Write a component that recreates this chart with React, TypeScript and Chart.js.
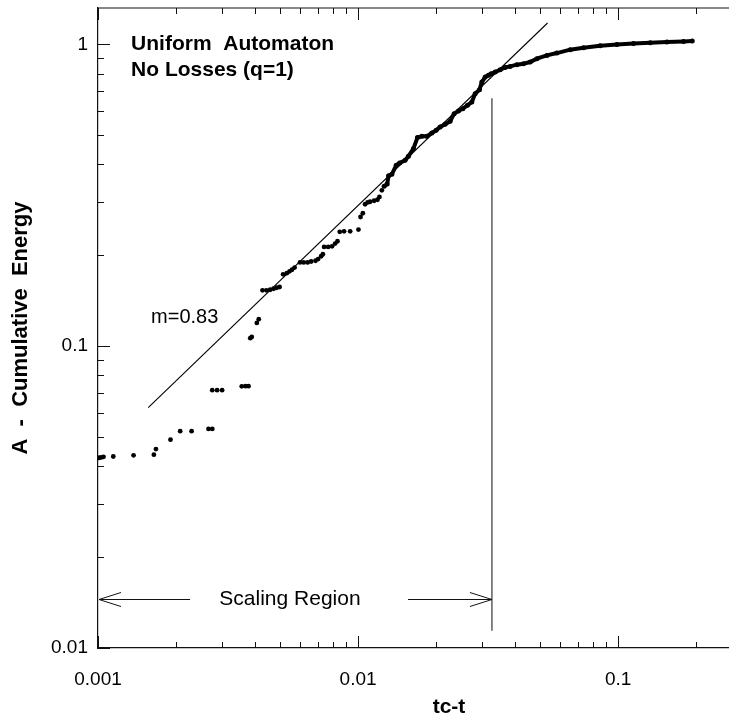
import React, { useEffect, useRef } from "react";
import { Chart, registerables } from "chart.js";

Chart.register(...registerables);

// Cumulative energy A versus time to failure tc-t: scattered early releases
const earlyTcMinusT = [
  0.00101, 0.00103, 0.00105, 0.001145, 0.00137, 0.00164, 0.00167, 0.0019, 0.00207, 0.00229,
  0.00266, 0.00275, 0.00275, 0.00287, 0.003, 0.00357, 0.00369, 0.00379, 0.00385, 0.0039,
  0.00408, 0.00415, 0.00429, 0.00444, 0.00459, 0.00473, 0.00486, 0.00499, 0.00515, 0.00532,
  0.00545, 0.00557, 0.0057, 0.00598, 0.00618, 0.0064, 0.0066, 0.00686, 0.00702, 0.00721,
  0.00732, 0.0074, 0.00767, 0.00794, 0.00816, 0.00833, 0.0085, 0.00883, 0.00932, 0.01003,
  0.01022, 0.01043, 0.01064, 0.01088, 0.01112, 0.01152, 0.01187, 0.01208, 0.01234,
];
const earlyEnergy = [
  0.0427, 0.0428, 0.043, 0.0431, 0.0435, 0.0437, 0.0456, 0.049, 0.0523, 0.0523,
  0.0532, 0.0532, 0.0715, 0.0715, 0.0715, 0.0736, 0.0737, 0.0737, 0.1063, 0.1073,
  0.1194, 0.1229, 0.1532, 0.1532, 0.1538, 0.155, 0.1562, 0.1571, 0.1731, 0.1745,
  0.1771, 0.1792, 0.1822, 0.1895, 0.1895, 0.1895, 0.1908, 0.1919, 0.1944, 0.1986,
  0.2017, 0.2132, 0.2132, 0.2143, 0.2188, 0.2227, 0.2393, 0.2403, 0.2403, 0.2434,
  0.268, 0.2757, 0.2953, 0.2994, 0.301, 0.3033, 0.3056, 0.3122, 0.3285,
];

// Dense releases close to failure and the saturation afterwards
const lateTcMinusT = [
  0.01259, 0.01293, 0.0131, 0.01348, 0.01401, 0.01444, 0.01516, 0.01561, 0.01632, 0.01691,
  0.01758, 0.01838, 0.01921, 0.01995, 0.02067, 0.02161, 0.02258, 0.0234, 0.02431, 0.02527,
  0.02633, 0.02737, 0.02818, 0.02928, 0.02991, 0.0308, 0.03171, 0.03247, 0.03365, 0.03517,
  0.03676, 0.03842, 0.04077, 0.04323, 0.04587, 0.04868, 0.05318, 0.05811, 0.06537, 0.07355,
  0.08527, 0.09886, 0.1145, 0.1328, 0.1539, 0.1783, 0.1926,
];
const lateEnergy = [
  0.3387, 0.3444, 0.3669, 0.3711, 0.3975, 0.4046, 0.4129, 0.4257, 0.4515, 0.491,
  0.4959, 0.4959, 0.5085, 0.5191, 0.5324, 0.5434, 0.5559, 0.5895, 0.6013, 0.6124,
  0.6281, 0.6441, 0.6867, 0.7079, 0.75, 0.7792, 0.7896, 0.7987, 0.8097, 0.8245,
  0.8391, 0.8455, 0.8566, 0.863, 0.8739, 0.8966, 0.9196, 0.9359, 0.9605, 0.9752,
  0.9901, 1.0, 1.0077, 1.013, 1.0177, 1.023, 1.0254,
];

// Power-law fit A ~ (tc-t)^m over the scaling region
const fitSlope = 0.83;
const fitValueAtHundredth = 0.2926;
const fitRange = [0.00156, 0.0535];

// Upper edge of the scaling region
const scalingEdge = 0.0327;
const edgeLineEnergy = [0.0114, 0.663];
const arrowLevel = 0.0145;
const arrowGap = [0.00226, 0.01556];

const xTickLabels = ["0.001", "0.01", "0.1"];
const yTickLabels = ["0.01", "0.1", "1"];
const xLimits = [0.001, 0.5];
const yLimits = [0.01, 1.32];

const FONT = '"Liberation Sans", Arial, Helvetica, sans-serif';

const toPoints = (xs: number[], ys: number[]) => xs.map((v, i) => ({ x: v, y: ys[i] }));

const labelFor = (labels: string[]) => (value: number | string) => {
  const v = Number(value);
  const hit = labels.find((l) => Math.abs(parseFloat(l) - v) / v < 1e-6);
  return hit ?? "";
};

const noScalePadding = (scale: any) => {
  scale.paddingTop = 0;
  scale.paddingBottom = 0;
  scale.paddingLeft = 0;
  scale.paddingRight = 0;
};

const frameAndNotes = {
  id: "frameAndNotes",
  afterDatasetsDraw(chart: any) {
    const { ctx, chartArea, scales } = chart;
    const xs = scales.x;
    const ys = scales.y;
    const { left, right, top, bottom } = chartArea;
    ctx.save();
    ctx.strokeStyle = "#111";
    ctx.lineWidth = 1.2;

    // top frame line
    ctx.beginPath();
    ctx.moveTo(left, top);
    ctx.lineTo(right, top);
    ctx.stroke();

    // inward log ticks on bottom, top and left
    ctx.lineWidth = 1;
    for (let n = -3; n <= 0; n++) {
      for (let k = 1; k <= 9; k++) {
        const v = k * Math.pow(10, n);
        if (v < xLimits[0] || v > xLimits[1]) continue;
        const px = Math.round(xs.getPixelForValue(v)) + 0.5;
        const len = k === 1 ? 12 : 6;
        ctx.beginPath();
        ctx.moveTo(px, bottom);
        ctx.lineTo(px, bottom - len);
        ctx.moveTo(px, top);
        ctx.lineTo(px, top + len);
        ctx.stroke();
      }
    }
    for (let n = -2; n <= 0; n++) {
      for (let k = 1; k <= 9; k++) {
        const v = k * Math.pow(10, n);
        if (v < yLimits[0] || v > yLimits[1]) continue;
        const py = Math.round(ys.getPixelForValue(v)) + 0.5;
        const len = k === 1 ? 12 : 6;
        ctx.beginPath();
        ctx.moveTo(left, py);
        ctx.lineTo(left + len, py);
        ctx.stroke();
      }
    }

    // scaling region arrows
    const ay = Math.round(ys.getPixelForValue(arrowLevel)) + 0.5;
    const x0 = xs.getPixelForValue(xLimits[0]) + 1;
    const x1 = xs.getPixelForValue(arrowGap[0]);
    const x2 = xs.getPixelForValue(arrowGap[1]);
    const x3 = xs.getPixelForValue(scalingEdge);
    const headL = 22;
    const headH = 7;
    ctx.lineWidth = 1;
    ctx.beginPath();
    ctx.moveTo(x0, ay);
    ctx.lineTo(x1, ay);
    ctx.moveTo(x0 + headL, ay - headH);
    ctx.lineTo(x0, ay);
    ctx.lineTo(x0 + headL, ay + headH);
    ctx.moveTo(x2, ay);
    ctx.lineTo(x3, ay);
    ctx.moveTo(x3 - headL, ay - headH);
    ctx.lineTo(x3, ay);
    ctx.lineTo(x3 - headL, ay + headH);
    ctx.stroke();

    ctx.fillStyle = "#000";
    ctx.textBaseline = "middle";
    ctx.textAlign = "center";
    ctx.font = `21px ${FONT}`;
    ctx.fillText("Scaling Region", xs.getPixelForValue(0.00547), ay);

    ctx.textAlign = "left";
    ctx.font = `20px ${FONT}`;
    ctx.fillText("m=0.83", xs.getPixelForValue(0.0016), ys.getPixelForValue(0.1248));

    ctx.font = `bold 21px ${FONT}`;
    const tx = xs.getPixelForValue(0.00134);
    ctx.fillText("Uniform  Automaton", tx, ys.getPixelForValue(1.0));
    ctx.fillText("No Losses (q=1)", tx, ys.getPixelForValue(0.82));
    ctx.restore();
  },
};

export default function App() {
  const canvasRef = useRef<HTMLCanvasElement | null>(null);

  useEffect(() => {
    const canvas = canvasRef.current;
    if (!canvas) return;

    const fitPoints = fitRange.map((t) => ({
      x: t,
      y: fitValueAtHundredth * Math.pow(t / 0.01, fitSlope),
    }));
    const edgePoints = edgeLineEnergy.map((a) => ({ x: scalingEdge, y: a }));

    const chart = new Chart(canvas, {
      type: "scatter",
      data: {
        datasets: [
          {
            data: fitPoints,
            showLine: true,
            borderColor: "#000",
            borderWidth: 1.1,
            pointRadius: 0,
          },
          {
            data: edgePoints,
            showLine: true,
            borderColor: "#333",
            borderWidth: 1.2,
            pointRadius: 0,
          },
          {
            data: toPoints(earlyTcMinusT, earlyEnergy),
            pointRadius: 2.4,
            pointBackgroundColor: "#000",
            pointBorderWidth: 0,
          },
          {
            data: toPoints(lateTcMinusT, lateEnergy),
            showLine: true,
            borderColor: "#000",
            borderWidth: 4,
            pointRadius: 2.5,
            pointBackgroundColor: "#000",
            pointBorderWidth: 0,
          },
        ],
      },
      options: {
        responsive: false,
        animation: false,
        devicePixelRatio: 1,
        layout: { padding: { left: 0, right: 10, top: 8, bottom: 0 } },
        plugins: { legend: { display: false }, tooltip: { enabled: false } },
        scales: {
          x: {
            type: "logarithmic",
            min: xLimits[0],
            max: xLimits[1],
            grid: { display: false, drawTicks: false },
            border: { display: true, color: "#111", width: 1.2 },
            ticks: {
              autoSkip: false,
              maxRotation: 0,
              padding: 20,
              color: "#000",
              font: { family: FONT, size: 19 },
              callback: labelFor(xTickLabels),
            },
            title: {
              display: true,
              text: "tc-t",
              color: "#000",
              font: { family: FONT, size: 21, weight: "bold" },
              padding: { top: 0, bottom: -2 },
            },
            afterFit: (scale: any) => {
              scale.height = 70;
              noScalePadding(scale);
            },
          },
          y: {
            type: "logarithmic",
            min: yLimits[0],
            max: yLimits[1],
            grid: { display: false, drawTicks: false },
            border: { display: true, color: "#111", width: 1.2 },
            ticks: {
              autoSkip: false,
              padding: 10,
              color: "#000",
              font: { family: FONT, size: 19 },
              callback: labelFor(yTickLabels),
            },
            title: {
              display: true,
              text: "A  -  Cumulative  Energy",
              color: "#000",
              font: { family: FONT, size: 22, weight: "bold" },
              padding: { top: 8, bottom: 0 },
            },
            afterFit: (scale: any) => {
              scale.width = 98;
              noScalePadding(scale);
            },
          },
        },
      },
      plugins: [frameAndNotes],
    });

    return () => chart.destroy();
  }, []);

  return (
    <div
      style={{
        position: "fixed",
        left: 0,
        top: 0,
        width: 729,
        height: 718,
        overflow: "hidden",
        background: "#fff",
      }}
    >
      <canvas ref={canvasRef} width={810} height={718} style={{ display: "block", width: 810, height: 718 }} />
    </div>
  );
}
